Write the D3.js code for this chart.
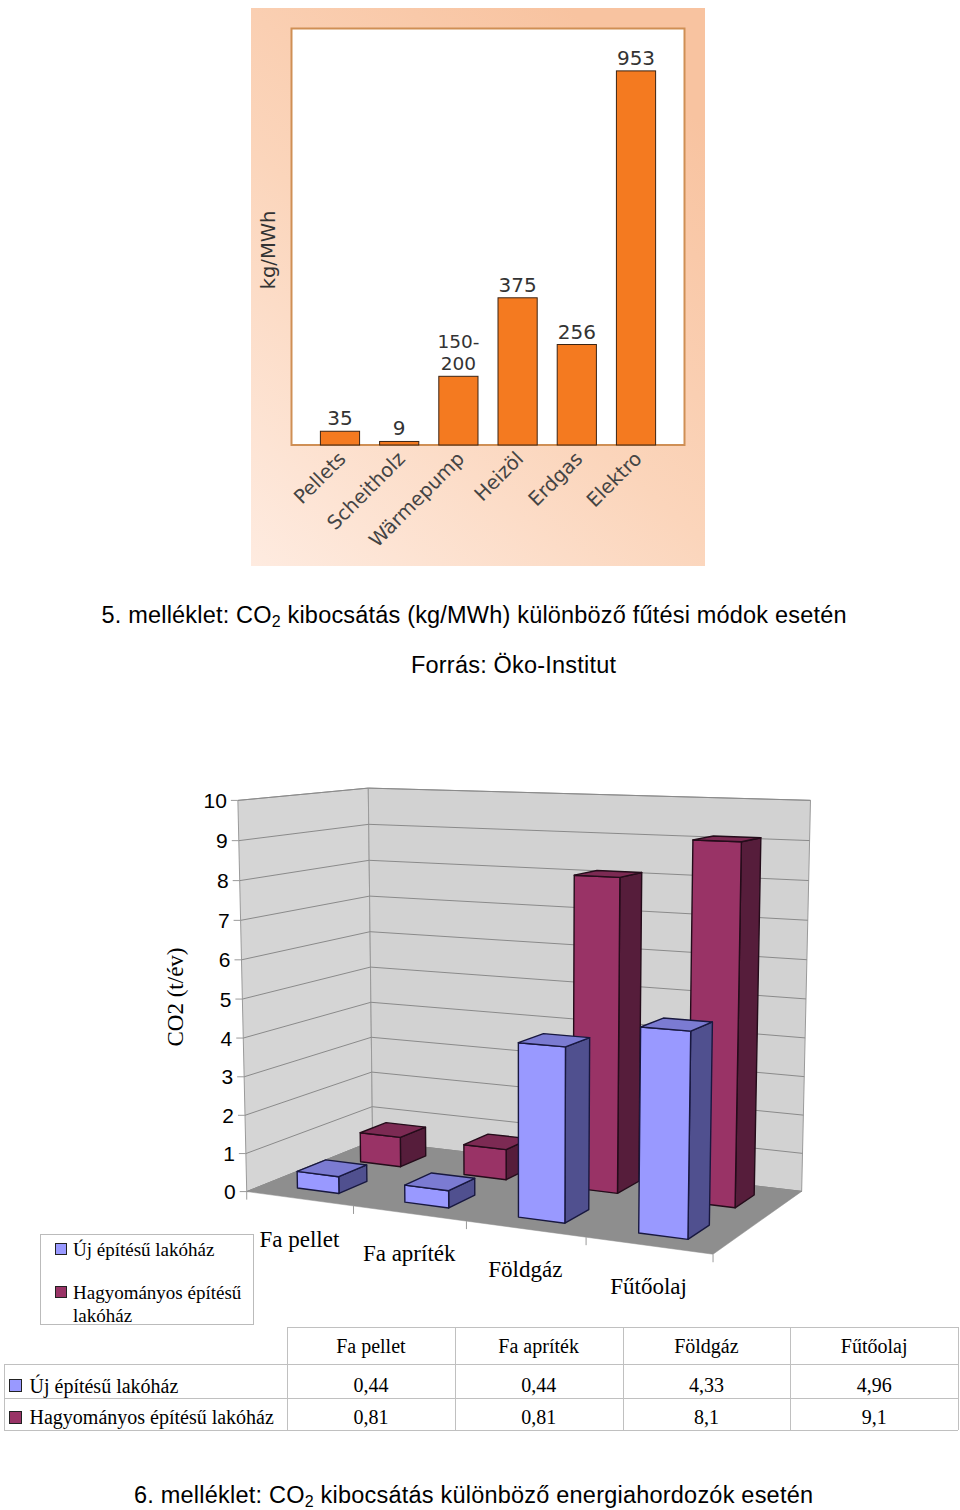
<!DOCTYPE html>
<html><head><meta charset="utf-8">
<script src="https://cdn.jsdelivr.net/npm/d3@7"></script>
<style>body{margin:0;background:#fff} svg{display:block}</style>
</head><body>
<script>
// ---- Chart 1 data ----
const heatCategories = ["Pellets","Scheitholz","Wärmepump","Heizöl","Erdgas","Elektro"];
const heatValues = [35, 9, 175, 375, 256, 953];
const heatLabels = [["35"],["9"],["150-","200"],["375"],["256"],["953"]];

// ---- Chart 2 data ----
const fuelCategories = ["Fa pellet","Fa apríték","Földgáz","Fűtőolaj"];
const seriesNames = ["Új építésű lakóház","Hagyományos építésű lakóház"];
const newHouse = [0.44, 0.44, 4.33, 4.96];
const oldHouse = [0.81, 0.81, 8.1, 9.1];
const newHouseText = ["0,44","0,44","4,33","4,96"];
const oldHouseText = ["0,81","0,81","8,1","9,1"];
const yTicks = [0,1,2,3,4,5,6,7,8,9,10];

const SANS = "'Liberation Sans', Arial, sans-serif";
const SERIF = "'Liberation Serif', 'Times New Roman', serif";
const DJ = "'DejaVu Sans', sans-serif";

const svg = d3.select("body").append("svg").attr("width",960).attr("height",1510);
const defs = svg.append("defs");
const gr = defs.append("linearGradient").attr("id","peach")
  .attr("x1",0).attr("y1",1).attr("x2",0.7).attr("y2",0);
gr.append("stop").attr("offset",0).attr("stop-color","#feebe0");
gr.append("stop").attr("offset",0.5).attr("stop-color","#fbd5bb");
gr.append("stop").attr("offset",1).attr("stop-color","#f8c3a0");

// ================= Chart 1 =================
svg.append("rect").attr("x",251).attr("y",8).attr("width",454).attr("height",558).attr("fill","url(#peach)");
const p1 = {l:291.5, r:684.5, t:28.5, b:445};
svg.append("rect").attr("x",p1.l).attr("y",p1.t).attr("width",p1.r-p1.l).attr("height",p1.b-p1.t)
  .attr("fill","#fff").attr("stroke","#cf8f55").attr("stroke-width",2);

const x1 = d3.scaleBand().domain(heatCategories).range([p1.l,p1.r]).paddingInner(0.338).paddingOuter(0.488);
const y1 = d3.scaleLinear().domain([0,1061]).range([p1.b,p1.t]);
const heat = heatCategories.map((c,i)=>({c, v:heatValues[i], lab:heatLabels[i]}));

svg.append("g").selectAll("rect").data(heat).join("rect")
  .attr("x",d=>x1(d.c)).attr("y",d=>y1(d.v))
  .attr("width",x1.bandwidth()).attr("height",d=>p1.b-y1(d.v))
  .attr("fill","#f47a20").attr("stroke","#3b2414").attr("stroke-width",1);

// value labels
const vl = svg.append("g").attr("font-family",DJ).attr("fill","#333").attr("text-anchor","middle");
heat.forEach(d=>{
  const n = d.lab.length;
  const fs = n > 1 ? 18.5 : 20;
  const LINE = 22;
  const cx = x1(d.c)+x1.bandwidth()/2;
  d.lab.forEach((s,j)=>{
    vl.append("text").attr("font-size",fs).attr("x",cx).attr("y",y1(d.v)-6-(n-1-j)*LINE).text(s);
  });
});

svg.append("g").selectAll("text").data(heat).join("text")
  .attr("transform",d=>`translate(${x1(d.c)+x1.bandwidth()/2+7},460) rotate(-45)`)
  .attr("text-anchor","end").attr("font-family",DJ).attr("font-size",19.5).attr("fill","#444")
  .text(d=>d.c);

svg.append("text").attr("transform","translate(268,250) rotate(-90)")
  .attr("text-anchor","middle").attr("dominant-baseline","central")
  .attr("font-family",DJ).attr("font-size",19.5).attr("fill","#333").text("kg/MWh");

// captions
function caption(x, y, len, parts){
  const t = svg.append("text").attr("x",x).attr("y",y).attr("font-family",SANS)
    .attr("font-size",23.5).attr("fill","#000").attr("textLength",len).attr("lengthAdjust","spacing");
  parts.forEach(p=>{
    if (p.sub) {
      t.append("tspan").attr("font-size",16).attr("dy",4).text(p.t);
    } else {
      const ts = t.append("tspan").text(p.t);
      if (p.after) ts.attr("dy",-4);
    }
  });
}
caption(101.5, 623, 745, [{t:"5. melléklet: CO"},{t:"2",sub:true},{t:" kibocsátás (kg/MWh) különböző fűtési módok esetén",after:true}]);
caption(411, 673, 205, [{t:"Forrás: Öko-Institut"}]);
caption(134, 1503, 679, [{t:"6. melléklet: CO"},{t:"2",sub:true},{t:" kibocsátás különböző energiahordozók esetén",after:true}]);

// ================= Chart 2 (3D columns) =================
const cam = {phi:26.3*Math.PI/180, psi:9.1*Math.PI/180, dist:1997, f:1997, cx:524.25, cy:999};
const box = {A:504.9, B:396, C:250.5};
function camCoords(X,Y,Z){
  const xp = X-box.A/2, yp = Y-box.B/2, zp = Z-box.C/2;
  const xc = xp*Math.cos(cam.phi) + zp*Math.sin(cam.phi);
  const zc = -xp*Math.sin(cam.phi) + zp*Math.cos(cam.phi);
  const yc = yp*Math.cos(cam.psi) + zc*Math.sin(cam.psi);
  const zz = -yp*Math.sin(cam.psi) + zc*Math.cos(cam.psi);
  return {xc, yc, zz};
}
function project(X,Y,Z){
  const c = camCoords(X,Y,Z);
  const s = cam.f/(cam.dist+c.zz);
  return [cam.cx + c.xc*s, cam.cy - c.yc*s];
}
const poly = pts => pts.map(p=>project(...p).join(",")).join(" ");

const xCat = d3.scaleBand().domain(fuelCategories).range([0,box.A]);
const xBar = d3.scaleBand().domain(fuelCategories).range([0,box.A]).paddingInner(0.607).paddingOuter(0.3035);
const zSer = d3.scaleBand().domain(seriesNames).range([0,box.C]).paddingInner(0.56).paddingOuter(0.28);
const yVal = d3.scaleLinear().domain([0,10]).range([0,box.B]);
const {A,B,C} = box;

const g2 = svg.append("g");
// walls
g2.append("polygon").attr("points",poly([[0,0,0],[0,0,C],[0,B,C],[0,B,0]]))
  .attr("fill","#d5d5d5").attr("stroke","#9a9a9a").attr("stroke-width",1);
g2.append("polygon").attr("points",poly([[0,0,C],[A,0,C],[A,B,C],[0,B,C]]))
  .attr("fill","#d2d2d2").attr("stroke","#9a9a9a").attr("stroke-width",1);
// gridlines
g2.append("g").selectAll("polyline").data(yTicks).join("polyline")
  .attr("points",v=>poly([[0,yVal(v),0],[0,yVal(v),C],[A,yVal(v),C]]))
  .attr("fill","none").attr("stroke","#8a8a8a").attr("stroke-width",1);
// floor
g2.append("polygon").attr("points",poly([[0,0,0],[A,0,0],[A,0,C],[0,0,C]]))
  .attr("fill","#8e8e8e").attr("stroke","#8e8e8e").attr("stroke-width",0.5);

// y ticks + labels
g2.append("g").selectAll("line").data(yTicks).join("line")
  .each(function(v){
    const p = project(0,yVal(v),0);
    d3.select(this).attr("x1",p[0]-7).attr("y1",p[1]).attr("x2",p[0]).attr("y2",p[1]);
  }).attr("stroke","#9a9a9a");
g2.append("g").selectAll("text").data(yTicks).join("text")
  .each(function(v){
    const p = project(0,yVal(v),0);
    d3.select(this).attr("x",p[0]-11).attr("y",p[1]);
  })
  .attr("text-anchor","end").attr("dominant-baseline","central")
  .attr("font-family",SANS).attr("font-size",21).attr("fill","#000").text(v=>v);

// category ticks on floor front edge
const bounds = [0,1,2,3,4];
g2.append("g").selectAll("line").data(bounds).join("line")
  .each(function(k){
    const p = project(k*xCat.step(),0,0);
    d3.select(this).attr("x1",p[0]).attr("y1",p[1]).attr("x2",p[0]).attr("y2",p[1]+8);
  }).attr("stroke","#9a9a9a");

// bars
const styles = [
  {front:"#9999ff", top:"#7b7bd2", side:"#50508f", stroke:"#18183f"},
  {front:"#993366", top:"#7c2a53", side:"#561d3b", stroke:"#240c1a"}
];
const seriesVals = [newHouse, oldHouse];
const bars = [];
seriesNames.forEach((s,si)=>{
  fuelCategories.forEach((c,ci)=>{
    const x0 = xBar(c), x1b = x0 + xBar.bandwidth();
    const z0 = zSer(s), z1 = z0 + zSer.bandwidth();
    const h = yVal(seriesVals[si][ci]);
    bars.push({si, x0, x1:x1b, z0, z1, h, depth: camCoords((x0+x1b)/2, h/2, (z0+z1)/2).zz});
  });
});
bars.sort((a,b)=>b.depth-a.depth);
const bg = g2.append("g");
bars.forEach(b=>{
  const st = styles[b.si];
  const g = bg.append("g").attr("stroke",st.stroke).attr("stroke-width",1.4).attr("stroke-linejoin","round");
  g.append("polygon").attr("points",poly([[b.x1,0,b.z0],[b.x1,0,b.z1],[b.x1,b.h,b.z1],[b.x1,b.h,b.z0]])).attr("fill",st.side);
  g.append("polygon").attr("points",poly([[b.x0,0,b.z0],[b.x1,0,b.z0],[b.x1,b.h,b.z0],[b.x0,b.h,b.z0]])).attr("fill",st.front);
  g.append("polygon").attr("points",poly([[b.x0,b.h,b.z0],[b.x1,b.h,b.z0],[b.x1,b.h,b.z1],[b.x0,b.h,b.z1]])).attr("fill",st.top);
});

// category labels
g2.append("g").selectAll("text").data(fuelCategories).join("text")
  .each(function(c){
    const p = project(xCat(c)+xCat.step()/2,0,0);
    d3.select(this).attr("x",p[0]).attr("y",p[1]+48);
  })
  .attr("text-anchor","middle").attr("font-family",SERIF).attr("font-size",23).attr("fill","#000").text(c=>c);

// axis title
svg.append("text").attr("transform","translate(175,997) rotate(-90)")
  .attr("text-anchor","middle").attr("dominant-baseline","central")
  .attr("font-family",SERIF).attr("font-size",23).attr("fill","#000").text("CO2 (t/év)");

// legend
const lg = svg.append("g").attr("font-family",SERIF).attr("font-size",19).attr("fill","#000");
lg.append("rect").attr("x",40.5).attr("y",1234.5).attr("width",213).attr("height",90)
  .attr("fill","#fff").attr("stroke","#bbbbbb");
lg.append("rect").attr("x",55.5).attr("y",1243.5).attr("width",11).attr("height",11)
  .attr("fill",styles[0].front).attr("stroke","#222");
lg.append("text").attr("x",73).attr("y",1256).text(seriesNames[0]);
lg.append("rect").attr("x",55.5).attr("y",1286.5).attr("width",11).attr("height",11)
  .attr("fill",styles[1].front).attr("stroke","#222");
lg.append("text").attr("x",73).attr("y",1298.5).text("Hagyományos építésű");
lg.append("text").attr("x",73).attr("y",1321.5).text("lakóház");

// data table
const tb = svg.append("g");
const col = d3.scaleBand().domain(fuelCategories).range([287,958]);
const rowY = [1327, 1364, 1398, 1430];
const lc = "#c0c0c0";
tb.append("line").attr("x1",287).attr("x2",958).attr("y1",rowY[0]+0.5).attr("y2",rowY[0]+0.5).attr("stroke",lc);
[1,2,3].forEach(i=>tb.append("line").attr("x1",4).attr("x2",958).attr("y1",rowY[i]+0.5).attr("y2",rowY[i]+0.5).attr("stroke",lc));
tb.append("line").attr("x1",4.5).attr("x2",4.5).attr("y1",rowY[1]).attr("y2",rowY[3]).attr("stroke",lc);
[287, ...fuelCategories.map(c=>col(c)+col.step())].forEach(x=>
  tb.append("line").attr("x1",Math.round(x)+0.5).attr("x2",Math.round(x)+0.5).attr("y1",rowY[0]).attr("y2",rowY[3]).attr("stroke",lc));
const tt = tb.append("g").attr("font-family",SERIF).attr("font-size",20).attr("fill","#000");
tt.selectAll("text.h").data(fuelCategories).join("text").attr("class","h")
  .attr("x",c=>col(c)+col.step()/2).attr("y",1353).attr("text-anchor","middle").text(c=>c);
tt.selectAll("text.r1").data(newHouseText).join("text").attr("class","r1")
  .attr("x",(d,i)=>col(fuelCategories[i])+col.step()/2).attr("y",1392).attr("text-anchor","middle").text(d=>d);
tt.selectAll("text.r2").data(oldHouseText).join("text").attr("class","r2")
  .attr("x",(d,i)=>col(fuelCategories[i])+col.step()/2).attr("y",1424).attr("text-anchor","middle").text(d=>d);
tb.append("rect").attr("x",9.5).attr("y",1379.5).attr("width",12).attr("height",12).attr("fill",styles[0].front).attr("stroke","#222");
tb.append("rect").attr("x",9.5).attr("y",1411.5).attr("width",12).attr("height",12).attr("fill",styles[1].front).attr("stroke","#222");
tt.append("text").attr("x",29.5).attr("y",1392.5).text(seriesNames[0]);
tt.append("text").attr("x",29.5).attr("y",1424).text(seriesNames[1]);
</script>
</body></html>
